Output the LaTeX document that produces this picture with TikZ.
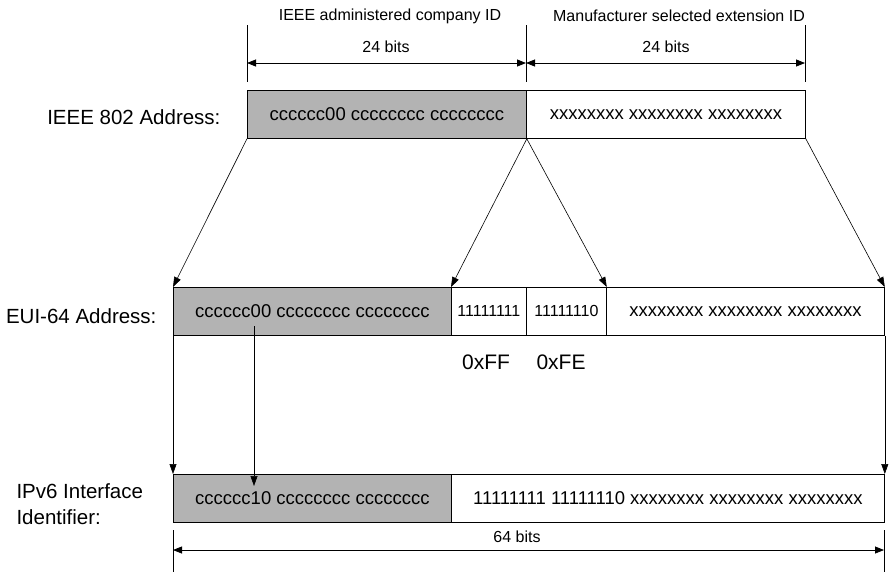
\documentclass[tikz,border=0pt]{standalone}
\usepackage{fontspec}
\setmainfont{Liberation Sans}
\usetikzlibrary{arrows.meta}
\definecolor{boxgray}{RGB}{179,179,179}

\begin{document}
\begin{tikzpicture}[x=1pt, y=-1pt,
    field/.style ={draw, line width=0.8pt, minimum height=48pt, inner sep=0pt,
                   anchor=north west, font=\fontsize{18.5}{18.5}\selectfont},
    company/.style ={field, fill=boxgray},
    caption/.style ={font=\fontsize{20.5}{26}\selectfont},
    small/.style ={font=\fontsize{16}{16}\selectfont},
    tick/.style ={line width=0.8pt},
    dim/.style ={line width=0.8pt, {Triangle[length=9pt,width=7pt]}-{Triangle[length=9pt,width=7pt]}},
    map/.style ={line width=0.6pt, -{Triangle[length=10pt,width=7pt]}}]
   \useasboundingbox (0,0) rectangle (893,574);

   % IEEE 802 address
   \node[company, minimum width=279pt] (A) at (247,90)  {cccccc00 cccccccc cccccccc};
   \node[field, minimum width=279pt]   (B) at (526,90)  {xxxxxxxx xxxxxxxx xxxxxxxx};

   % EUI-64 address
   \node[company, minimum width=278pt] (C) at (173,287) {cccccc00 cccccccc cccccccc};
   \node[field, minimum width=75pt, small] (D) at (451,287) {11111111};
   \node[field, minimum width=80pt, small] (E) at (526,287) {11111110};
   \node[field, minimum width=278pt]   (F) at (606,287) {xxxxxxxx xxxxxxxx xxxxxxxx};

   % IPv6 interface identifier
   \node[company, minimum width=278pt] (G) at (173,474) {cccccc10 cccccccc cccccccc};
   \node[field, minimum width=433pt]   (H) at (451,474) {11111111 11111110 xxxxxxxx xxxxxxxx xxxxxxxx};

   % row labels
   \node[caption, anchor=east] (la) at (224,117) {IEEE 802 Address:};
   \node[caption, anchor=east] (lb) at (160,316) {EUI-64 Address:};
   \node[caption, anchor=west, align=left] (lc) at (13,504) {IPv6 Interface\\Identifier:};
   \node[caption, font=\fontsize{21}{21}\selectfont] (ff) at (486,362) {0xFF};
   \node[caption, font=\fontsize{21}{21}\selectfont] (fe) at (561,362) {0xFE};

   % field headers
   \node[small] (ha) at (390,16) {IEEE administered company ID};
   \node[small] (hb) at (679,16) {Manufacturer selected extension ID};
   \node[small] (ba) at (386,47) {24 bits};
   \node[small] (bb) at (666,47) {24 bits};
   \node[small] (bc) at (517,537) {64 bits};

   % dimension lines
   \coordinate (t1) at (247,63);
   \coordinate (t2) at (526,63);
   \coordinate (t3) at (805,63);
   \coordinate (t4) at (173,550);
   \coordinate (t5) at (884,550);
   \draw[tick] (247,25) -- (247,82);
   \draw[tick] (526,25) -- (526,82);
   \draw[tick] (805,25) -- (805,82);
   \draw[tick] (173,530) -- (173,572);
   \draw[tick] (884,530) -- (884,572);
   \draw[dim] (t1) -- (t2);
   \draw[dim] (t2) -- (t3);
   \draw[dim] (t4) -- (t5);

   % mapping
   \draw[map] (A.south west) -- (C.north west);
   \draw[map] (A.south east) -- (D.north west);
   \draw[map] (A.south east) -- (E.north east);
   \draw[map] (B.south east) -- (F.north east);
   \draw[line width=0.8pt] (C.south west) -- (F.south east);
   \draw[map] (C.south west) -- (G.north west);
   \draw[map] (F.south east) -- (H.north east);
   \coordinate (u) at (254,326);
   \coordinate (v) at (254,486);
   \draw[map] (u) -- (v);
 \end{tikzpicture}
\end{document}
